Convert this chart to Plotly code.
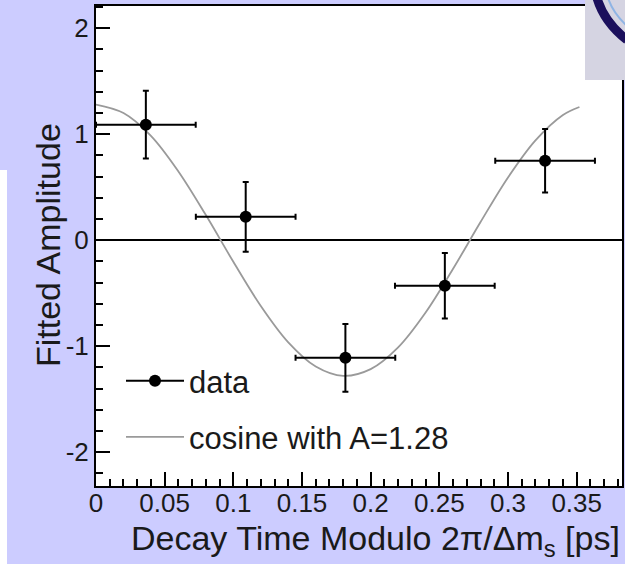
import plotly.graph_objects as go

# ---- data ----
bin_centers = [0.0363, 0.109, 0.1816, 0.254, 0.327]
bin_halfwidth = [0.0363, 0.0363, 0.0363, 0.0363, 0.0363]
amplitude = [1.09, 0.22, -1.11, -0.43, 0.75]
amplitude_err = [0.32, 0.33, 0.32, 0.31, 0.30]

cos_x = [0.0, 0.02, 0.04, 0.06, 0.08, 0.10, 0.12, 0.14, 0.16, 0.18,
         0.20, 0.22, 0.24, 0.26, 0.28, 0.30, 0.32, 0.34, 0.352]
cos_y = [1.28, 1.20, 0.985, 0.649, 0.237, -0.204, -0.621, -0.964, -1.192, -1.28,
         -1.217, -1.012, -0.683, -0.270, 0.171, 0.592, 0.942, 1.182, 1.257]

x_ticks = [0, 0.05, 0.1, 0.15, 0.2, 0.25, 0.3, 0.35]
x_tick_labels = ["0", "0.05", "0.1", "0.15", "0.2", "0.25", "0.3", "0.35"]
y_ticks = [-2, -1, 0, 1, 2]
y_tick_labels = ["-2", "-1", "0", "1", "2"]

W, H = 625, 564
ML, MR, MT, MB = 96, 3, 6, 78
PW, PH = W - ML - MR, H - MT - MB


def px(xp):
    return (xp - ML) / PW


def py(yp):
    return (H - MB - yp) / PH


FONT = "Liberation Sans, Arial, sans-serif"
TXT = "#1a1a1a"

fig = go.Figure()

fig.add_trace(go.Scatter(
    x=cos_x, y=cos_y, mode="lines", line=dict(color="#9a9a9a", width=1.8, shape="spline"),
    name="cosine with A=1.28", legendgroup="b", legendrank=2, showlegend=True,
))

fig.add_trace(go.Scatter(
    x=bin_centers, y=amplitude, mode="markers",
    marker=dict(color="black", size=12),
    error_x=dict(type="data", array=bin_halfwidth, color="black", thickness=2, width=3),
    error_y=dict(type="data", array=amplitude_err, color="black", thickness=2, width=3),
    showlegend=False,
))

fig.add_trace(go.Scatter(
    x=[None], y=[None], mode="lines+markers",
    line=dict(color="black", width=2), marker=dict(color="black", size=12),
    name="data", legendgroup="a", legendrank=1,
))

shapes = [
    dict(type="rect", xref="paper", yref="paper", x0=px(-1), x1=px(7), y0=py(170), y1=py(565),
         fillcolor="white", line=dict(width=0), layer="below"),
    dict(type="rect", xref="paper", yref="paper", x0=px(585), x1=px(626), y0=py(80), y1=py(-1),
         fillcolor="#d5d4e2", line=dict(width=0), layer="above"),
    dict(type="path", xref="paper", yref="paper",
         path=f"M {px(597)},{py(-2)} Q {px(604)},{py(22)} {px(627)},{py(40)}",
         line=dict(color="#1b0f5c", width=9), layer="above"),
    dict(type="path", xref="paper", yref="paper",
         path=f"M {px(608)},{py(-2)} Q {px(613)},{py(13)} {px(627)},{py(26)}",
         line=dict(color="#8fb4e4", width=2), layer="above"),
]

annotations = [
    dict(text="Decay Time Modulo 2π/Δm<sub>s</sub> [ps]", xref="paper", yref="paper",
         x=1.0, y=py(540), xanchor="right", yanchor="middle", showarrow=False,
         font=dict(size=34, family=FONT, color=TXT)),
    dict(text="Fitted Amplitude", xref="paper", yref="paper",
         x=px(48), y=py(245), xanchor="center", yanchor="middle", textangle=-90, showarrow=False,
         font=dict(size=34, family=FONT, color=TXT)),
]

fig.update_layout(
    width=W, height=H,
    margin=dict(l=ML, r=MR, t=MT, b=MB, autoexpand=False),
    paper_bgcolor="#ccccff",
    plot_bgcolor="white",
    font=dict(family=FONT, color=TXT, size=26),
    shapes=shapes,
    annotations=annotations,
    legend=dict(
        x=px(121), y=py(354), xanchor="left", yanchor="top",
        bgcolor="rgba(0,0,0,0)", font=dict(size=31, family=FONT, color=TXT),
        itemwidth=58, traceorder="grouped", tracegroupgap=13,
    ),
    xaxis=dict(
        range=[0, 0.383], tickmode="array", tickvals=x_ticks, ticktext=x_tick_labels,
        ticks="inside", ticklen=14, tickwidth=1.5, tickcolor="black",
        minor=dict(dtick=0.01, tick0=0, ticks="inside", ticklen=7, tickwidth=1.5, tickcolor="black"),
        showline=True, linecolor="black", linewidth=2, mirror=True,
        showgrid=False, zeroline=False, automargin=False, ticklabelstandoff=-7,
        tickfont=dict(size=26, family=FONT, color=TXT),
    ),
    yaxis=dict(
        range=[-2.32, 2.21], tickmode="array", tickvals=y_ticks, ticktext=y_tick_labels,
        ticks="inside", ticklen=14, tickwidth=1.5, tickcolor="black",
        minor=dict(dtick=0.2, tick0=0, ticks="inside", ticklen=7, tickwidth=1.5, tickcolor="black"),
        showline=True, linecolor="black", linewidth=2, mirror=True,
        showgrid=False, zeroline=True, zerolinecolor="black", zerolinewidth=2, automargin=False,
        tickfont=dict(size=26, family=FONT, color=TXT),
    ),
)

fig.write_html("out.html", config={"displayModeBar": False},
               post_script="document.body.style.margin='0';")
